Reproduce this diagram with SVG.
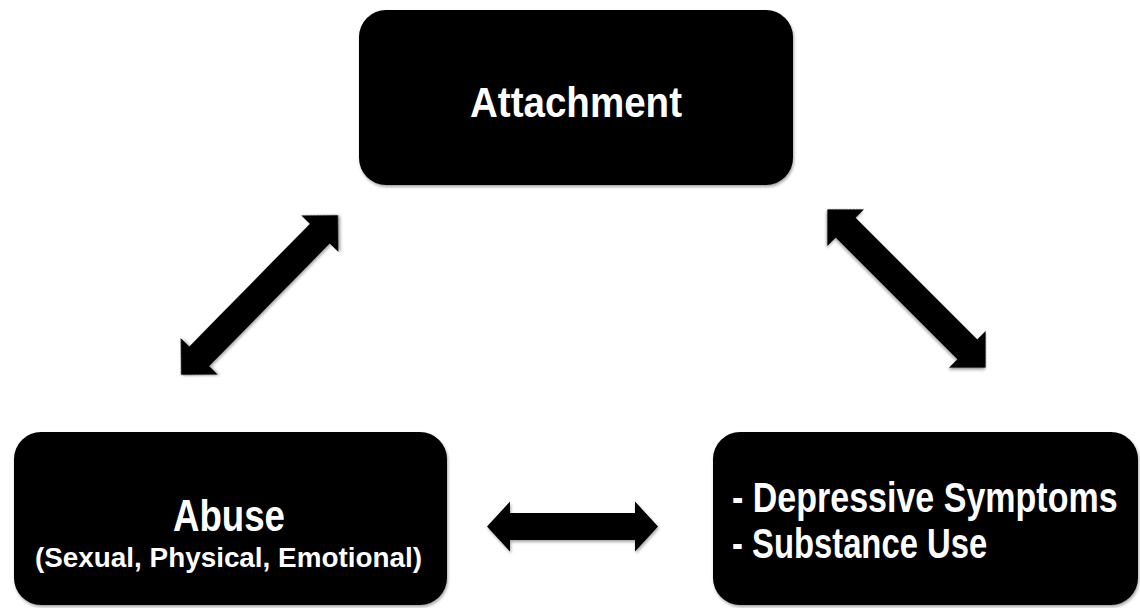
<svg xmlns="http://www.w3.org/2000/svg" width="1140" height="608" viewBox="0 0 1140 608">
<defs>
<filter id="sh" x="-10%" y="-10%" width="120%" height="125%">
<feDropShadow dx="1" dy="2" stdDeviation="1.5" flood-color="#000" flood-opacity="0.35"/>
</filter>
<style>
.box{fill:#000;filter:url(#sh)}
.arr{fill:#000;filter:url(#sh)}
.t{fill:#fff;font-family:"Liberation Sans",Arial,sans-serif;font-weight:bold}
</style>
</defs>
<rect width="1140" height="608" fill="#fff"/>
<g id="connectors">
<path class="arr" transform="translate(259.5,295) rotate(-45.5)" d="M-112,0 L-86,-26 L-86,-14 L86,-14 L86,-26 L112,0 L86,26 L86,14 L-86,14 L-86,26 Z"/>
<path class="arr" transform="translate(906.5,288.5) rotate(45)" d="M-112,0 L-86,-26 L-86,-14 L86,-14 L86,-26 L112,0 L86,26 L86,14 L-86,14 L-86,26 Z"/>
<path class="arr" transform="translate(572.5,526.5)" d="M-85.5,0 L-62.5,-25 L-62.5,-13.5 L62.5,-13.5 L62.5,-25 L85.5,0 L62.5,25 L62.5,13.5 L-62.5,13.5 L-62.5,25 Z"/>
</g>
<g id="attachment">
<rect class="box" x="359" y="10" width="434" height="175" rx="27"/>
<text class="t" x="576" y="117" font-size="43" text-anchor="middle" textLength="212" lengthAdjust="spacingAndGlyphs">Attachment</text>
</g>
<g id="abuse">
<rect class="box" x="14" y="432" width="433" height="173" rx="27"/>
<text class="t" x="229" y="531" font-size="44" text-anchor="middle" textLength="112" lengthAdjust="spacingAndGlyphs">Abuse</text>
<text class="t" x="228.5" y="567" font-size="27" text-anchor="middle" textLength="387" lengthAdjust="spacingAndGlyphs">(Sexual, Physical, Emotional)</text>
</g>
<g id="outcomes">
<rect class="box" x="713" y="432" width="425" height="173" rx="27"/>
<g transform="translate(732,0) scale(0.81,1)">
<text class="t" x="0" y="512" font-size="42" textLength="476" lengthAdjust="spacingAndGlyphs">- Depressive Symptoms</text>
<text class="t" x="0" y="558" font-size="42" textLength="315" lengthAdjust="spacingAndGlyphs">- Substance Use</text>
</g>
</g>
</svg>
